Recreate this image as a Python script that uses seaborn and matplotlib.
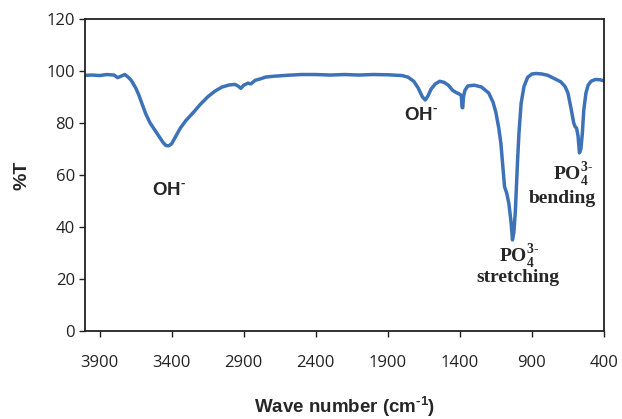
import numpy as np
import pandas as pd
import seaborn as sns
import matplotlib.pyplot as plt

# FTIR spectrum
wavenumber = [4000, 3950, 3900, 3850, 3800, 3775, 3750, 3725, 3700, 3680, 3650, 3630,
              3600, 3580, 3550, 3520, 3490, 3460, 3440, 3420, 3400, 3380, 3360, 3340,
              3300, 3250, 3200, 3150, 3100, 3050, 3000, 2960, 2940, 2920, 2900, 2870,
              2850, 2820, 2780, 2750, 2700, 2600, 2500, 2400, 2300, 2200, 2100, 2000,
              1900, 1800, 1760, 1720, 1690, 1660, 1640, 1620, 1600, 1570, 1540, 1510,
              1480, 1450, 1420, 1400, 1390, 1385, 1380, 1375, 1365, 1345, 1300, 1250,
              1200, 1170, 1150, 1130, 1115, 1100, 1090, 1075, 1060, 1045, 1035, 1025,
              1015, 1000, 990, 975, 955, 930, 900, 870, 830, 790, 750, 700,
              670, 650, 630, 610, 600, 590, 580, 570, 560, 550, 540, 525,
              510, 490, 460, 430, 400]
transmittance = [98.3, 98.4, 98.2, 98.6, 98.4, 97.4, 98.0, 98.6, 97.5, 96.3, 93.5, 91.0,
                 86.5, 83.5, 80.0, 77.5, 75.0, 72.5, 71.3, 71.2, 72.0, 74.0, 76.0, 78.0,
                 81.0, 84.0, 87.2, 90.0, 92.2, 93.8, 94.6, 94.8, 94.2, 93.3, 94.5, 95.3,
                 95.0, 96.4, 97.0, 97.6, 97.9, 98.3, 98.6, 98.6, 98.4, 98.6, 98.4, 98.6,
                 98.5, 98.2, 97.6, 96.0, 93.5, 90.0, 88.8, 90.5, 93.0, 95.0, 96.0, 95.6,
                 94.5, 92.5, 91.5, 91.0, 90.5, 86.0, 85.8, 90.0, 92.5, 94.2, 94.5, 93.8,
                 91.5, 88.0, 84.0, 78.0, 72.0, 62.0, 55.5, 53.0, 49.0, 42.0, 35.0, 38.0,
                 46.0, 65.0, 76.0, 87.5, 94.0, 97.5, 98.8, 99.0, 98.8, 98.3, 97.2, 95.8,
                 94.0, 91.5, 86.0, 80.0, 78.5, 78.0, 75.0, 68.5, 70.0, 76.0, 85.0, 91.5,
                 94.5, 96.0, 96.7, 96.6, 96.2]

xticks = [3900, 3400, 2900, 2400, 1900, 1400, 900, 400]
yticks = [0, 20, 40, 60, 80, 100, 120]

df = pd.DataFrame({'wavenumber': wavenumber, 'T': transmittance})

sns.set_style("ticks")
plt.rcParams['font.family'] = ['Open Sans', 'DejaVu Sans']
plt.rcParams['mathtext.fontset'] = 'custom'
plt.rcParams['mathtext.rm'] = 'Liberation Serif:bold'
plt.rcParams['mathtext.bf'] = 'Liberation Serif:bold'
plt.rcParams['mathtext.sf'] = 'Liberation Sans:bold'

fig = plt.figure(figsize=(6.22, 4.19), dpi=100)
ax = fig.add_axes([0.137, 0.21, 0.834, 0.745])

sns.lineplot(data=df, x='wavenumber', y='T', estimator=None, color='#3d72b8',
             linewidth=2.5, ax=ax)

ax.set_xlim(4000, 400)
ax.set_ylim(0, 120)
ax.set_xticks(xticks)
ax.set_yticks(yticks)
ax.tick_params(axis='both', labelsize=12, colors='#222222', length=4, width=1)
ax.tick_params(axis='x', pad=13)
for s in ax.spines.values():
    s.set_color('#222222')
    s.set_linewidth(1.3)

ax.set_xlabel('Wave number (cm$^{\\mathsf{\u20101}}$)', family='Liberation Sans',
              fontweight='bold', fontsize=13.5, labelpad=17)
ax.set_ylabel('%T', family='Liberation Sans', fontweight='bold', fontsize=14,
              labelpad=11)

sans = dict(family='Liberation Sans', fontweight='bold', fontsize=13.5,
            ha='center', va='center')
serif = dict(family='Liberation Serif', fontweight='bold', fontsize=14,
             ha='center', va='center')
ax.text(3420, 54, 'OH$^{\\mathsf{\u2010}}$', **sans)
ax.text(1671, 83, 'OH$^{\\mathsf{\u2010}}$', **sans)
ax.text(990, 28.5, 'PO$_4^{3\u2010}$', **serif)
ax.text(1000, 20.5, 'stretching', **serif)
ax.text(612, 60, 'PO$_4^{3\u2010}$', **serif)
ax.text(687, 51, 'bending', **serif)

plt.savefig('out.png', dpi=100)
